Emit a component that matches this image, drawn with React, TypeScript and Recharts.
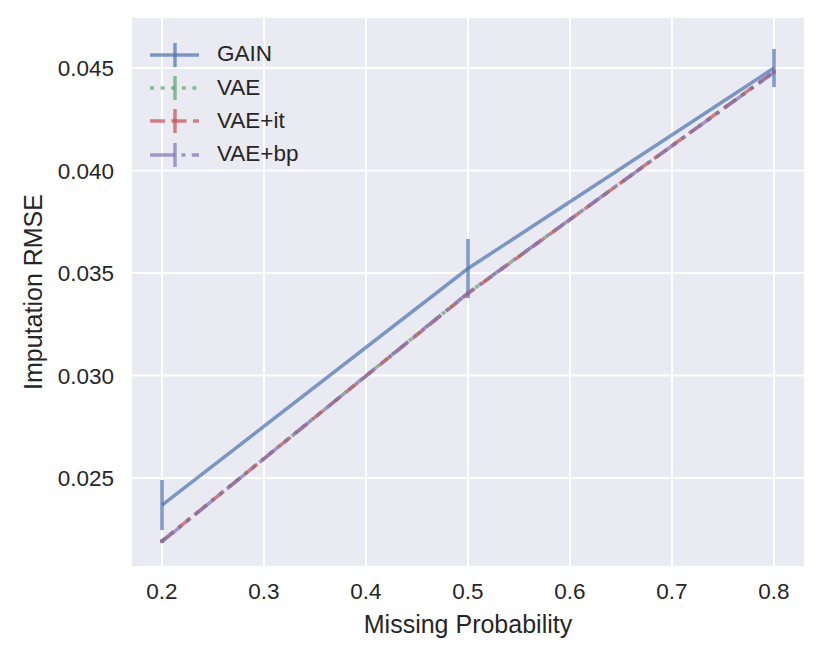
import {
  CartesianGrid,
  ComposedChart,
  ErrorBar,
  Label,
  Line,
  XAxis,
  YAxis,
} from 'recharts';

const probs = [0.2, 0.5, 0.8];
const gain = [0.02368, 0.03522, 0.045];
const gainErr = [0.00122, 0.00144, 0.00093];
const vae = [0.02193, 0.03402, 0.0448];
const vaeErr = [0.00008, 0.00008, 0.00008];
const vaeIt = [0.02192, 0.034, 0.04482];
const vaeItErr = [0.00008, 0.00008, 0.00008];
const vaeBp = [0.0219, 0.03403, 0.04479];
const vaeBpErr = [0.00008, 0.00008, 0.00008];
const xTicks = [0.2, 0.3, 0.4, 0.5, 0.6, 0.7, 0.8];
const yTicks = [0.025, 0.03, 0.035, 0.04, 0.045];

const data = probs.map((p, i) => ({
  p,
  gain: gain[i],
  gainErr: gainErr[i],
  vae: vae[i],
  vaeErr: vaeErr[i],
  vaeIt: vaeIt[i],
  vaeItErr: vaeItErr[i],
  vaeBp: vaeBp[i],
  vaeBpErr: vaeBpErr[i],
}));

const FONT = '"Liberation Sans", Arial, sans-serif';
const TEXT = '#262626';

const series = [
  { key: 'gain', name: 'GAIN', color: '#4C72B0', dash: undefined },
  { key: 'vae', name: 'VAE', color: '#55A868', dash: '4 6.6' },
  { key: 'vaeIt', name: 'VAE+it', color: '#C44E52', dash: '15 6.5' },
  { key: 'vaeBp', name: 'VAE+bp', color: '#8172B2', dash: '25 6.4 4 6.4' },
];

function LegendBox() {
  return (
    <div
      style={{
        position: 'absolute',
        left: 149,
        top: 38,
        fontFamily: FONT,
        fontSize: 22.5,
        color: TEXT,
        lineHeight: 1,
      }}
    >
      {series.map((s) => (
        <div
          key={s.key}
          style={{ display: 'flex', alignItems: 'center', height: 33.3 }}
        >
          <svg width={68} height={26} style={{ display: 'block' }}>
            <line
              x1={1}
              x2={50}
              y1={13}
              y2={13}
              stroke={s.color}
              strokeOpacity={0.7}
              strokeWidth={3.5}
              strokeDasharray={s.dash}
            />
            <line
              x1={26}
              x2={26}
              y1={1}
              y2={25}
              stroke={s.color}
              strokeOpacity={0.7}
              strokeWidth={3.5}
            />
          </svg>
          <span>{s.name}</span>
        </div>
      ))}
    </div>
  );
}

export default function App() {
  return (
    <div style={{ position: 'absolute', left: 0, top: 0, width: 830, height: 664 }}>
      <ComposedChart
        width={830}
        height={664}
        data={data}
        margin={{ top: 17, right: 25, bottom: 35, left: 0 }}
      >
        <CartesianGrid fill='#EAEAF2' stroke='#FFFFFF' strokeWidth={2} />
        <XAxis
          dataKey='p'
          type='number'
          domain={[0.1696, 0.8304]}
          ticks={xTicks}
          allowDataOverflow
          height={62}
          axisLine={false}
          tickLine={false}
          tickSize={0}
          tickMargin={16}
          tick={{ fill: TEXT, fontSize: 22.5, fontFamily: FONT }}
        >
          <Label
            value='Missing Probability'
            position='insideBottom'
            offset={-4}
            fill={TEXT}
            fontSize={25}
            fontFamily={FONT}
          />
        </XAxis>
        <YAxis
          type='number'
          domain={[0.02066, 0.04749]}
          ticks={yTicks}
          allowDataOverflow
          width={131}
          axisLine={false}
          tickLine={false}
          tickSize={0}
          tickMargin={17}
          tickFormatter={(v: number) => v.toFixed(3)}
          tick={{ fill: TEXT, fontSize: 22.5, fontFamily: FONT }}
        >
          <Label
            value='Imputation RMSE'
            angle={-90}
            position='insideLeft'
            offset={33}
            style={{ textAnchor: 'middle' }}
            fill={TEXT}
            fontSize={25}
            fontFamily={FONT}
          />
        </YAxis>
        {series.map((s) => (
          <Line
            key={s.key}
            dataKey={s.key}
            name={s.name}
            type='linear'
            stroke={s.color}
            strokeOpacity={0.7}
            strokeWidth={3.5}
            strokeDasharray={s.dash}
            dot={false}
            activeDot={false}
            isAnimationActive={false}
          >
            <ErrorBar
              dataKey={s.key + 'Err'}
              direction='y'
              width={0}
              stroke={s.color}
              strokeOpacity={0.7}
              strokeWidth={3.5}
              isAnimationActive={false}
            />
          </Line>
        ))}
      </ComposedChart>
      <LegendBox />
    </div>
  );
}
